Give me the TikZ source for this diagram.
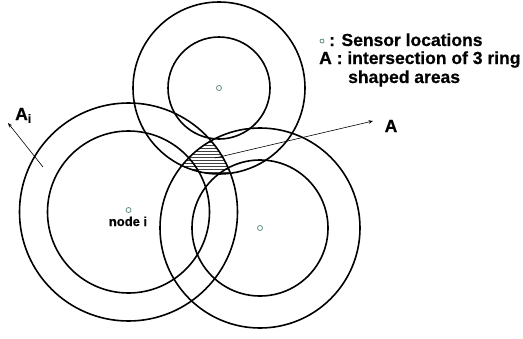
\documentclass[tikz,border=0pt]{standalone}
\usepackage{fontspec}
\setmainfont{Liberation Sans}[BoldFeatures={FakeBold=0.6}]
\usetikzlibrary{arrows.meta}
\definecolor{sensor}{HTML}{5F8C84}
\tikzset{
  ring/.style={line width=1.6pt, black},
  sensordot/.style={circle, draw=sensor, line width=0.8pt, minimum size=5pt, inner sep=0pt},
  pointer/.style={line width=0.6pt, -{Stealth[length=4.5pt,width=3.5pt]}},
  hatch/.style={line width=0.5pt, black!75},
  lbl/.style={inner sep=0pt, font=\bfseries\fontsize{17.5}{20}\selectfont},
  small/.style={inner sep=0pt, font=\bfseries\fontsize{13}{15}\selectfont}
}
\begin{document}
\begin{tikzpicture}[x=1pt,y=-1pt]
\useasboundingbox (0,0) rectangle (523,338);
% centres
\coordinate (T) at (219,88);
\coordinate (L) at (128.5,212);
\coordinate (R) at (260,228);
% hatched intersection of the three rings
\begin{scope}
  \clip (T) circle[radius=86pt];
  \clip (L) circle[radius=109pt];
  \clip (R) circle[radius=100pt];
  \clip (0,338) -- (523,338) -- (523,0) -- (0,0) -- cycle
        (219+51,88) arc[start angle=0, end angle=360, radius=51pt];
  \clip (0,338) -- (523,338) -- (523,0) -- (0,0) -- cycle
        (128.5+81,212) arc[start angle=0, end angle=360, radius=81pt];
  \clip (0,338) -- (523,338) -- (523,0) -- (0,0) -- cycle
        (260+68,228) arc[start angle=0, end angle=360, radius=68pt];
  \foreach \yy in {139,142,...,178} {\draw[hatch] (170,\yy) -- (250,\yy);}
\end{scope}
% rings
\draw[ring] (T) circle[radius=86pt];
\draw[ring] (T) circle[radius=51pt];
\draw[ring] (L) circle[radius=109pt];
\draw[ring] (L) circle[radius=81pt];
\draw[ring] (R) circle[radius=100pt];
\draw[ring] (R) circle[radius=68pt];
% sensors
\node[sensordot] (sT) at (T) {};
\node[sensordot] (sL) at (128.5,210) {};
\node[sensordot] (sR) at (R) {};
\node[small, anchor=base] (nodei) at (128,226) {node i};
% pointers
\coordinate (hA) at (215,158);
\coordinate (tA) at (373,121);
\draw[pointer] (hA) -- (tA);
\node[lbl, anchor=base] (labA) at (391,132) {A};
\coordinate (hAi) at (43,167);
\coordinate (tAi) at (8,123);
\draw[pointer] (hAi) -- (tAi);
\node[lbl, anchor=base west] (labAi) at (15,120) {A\textsubscript{i}};
% legend
\node[sensordot, minimum size=4pt] (legdot) at (322,41) {};
\node[lbl, anchor=base west] (leg1) at (329,46) {: Sensor locations};
\node[lbl, anchor=base west] (leg2) at (319,64) {A : intersection of 3 ring};
\node[lbl, anchor=base west] (leg3) at (348,83) {shaped areas};
\end{tikzpicture}
\end{document}
